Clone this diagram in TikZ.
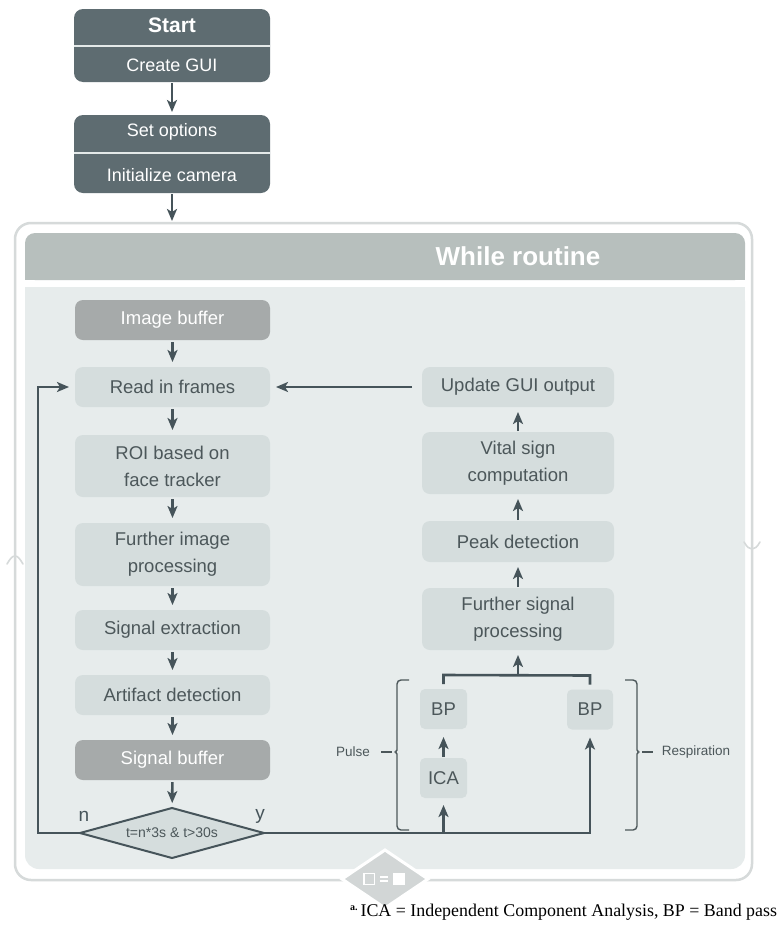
\documentclass[tikz,border=0pt]{standalone}
\usepackage{fontspec}
\setmainfont{Liberation Sans}
\newfontfamily\notefont{Liberation Serif}
\usetikzlibrary{arrows.meta,calc,shapes.geometric}

\definecolor{darkbox}{HTML}{5E6C71}
\definecolor{headcol}{HTML}{B7BFBD}
\definecolor{areacol}{HTML}{E7ECEC}
\definecolor{lightbox}{HTML}{D5DDDD}
\definecolor{bufcol}{HTML}{A6AAAA}
\definecolor{flowcol}{HTML}{46545A}
\definecolor{boxtext}{HTML}{4C575A}
\definecolor{framecol}{HTML}{D6DADA}
\definecolor{badgecol}{HTML}{D2D6D6}
\definecolor{dividecol}{HTML}{E4E9E9}

\newcommand\fsz[2]{\fontsize{#1}{#2}\selectfont}

\tikzset{
  every node/.style={inner sep=0pt, outer sep=0pt},
  darkbox/.style={rectangle, rounded corners=9pt, fill=darkbox, minimum width=196pt},
  darktext/.style={text=white, font=\fsz{18}{21}},
  lbox/.style={rectangle, rounded corners=8pt, fill=lightbox, text=boxtext,
    font=\fsz{18.5}{27}, align=center, minimum height=40pt},
  lcol/.style={lbox, minimum width=195pt},
  rcol/.style={lbox, minimum width=192pt},
  bufbox/.style={lcol, fill=bufcol, text=white},
  smallbox/.style={lbox, minimum width=47pt, rounded corners=5pt},
  flow/.style={draw=flowcol, line width=2.6pt,
    -{Stealth[length=12pt,width=10pt,inset=3pt]}},
  plainflow/.style={draw=flowcol, line width=2.6pt},
  bracket/.style={draw=boxtext, line width=1.4pt, rounded corners=4pt},
  sidelabel/.style={text=boxtext, font=\fsz{13.5}{16}},
  divider/.style={draw=dividecol, line width=2pt},
}

\begin{document}
\begin{tikzpicture}[x=1pt, y=-1pt]
  \useasboundingbox (0,0) rectangle (779,937);
  \fill[white] (0,0) rectangle (779,937);

  % set-up blocks before the loop
  \node[darkbox, minimum height=73pt] (setup1) at (172,45.5) {};
  \node[darktext, font=\fsz{21}{24}\bfseries] (start) at (172,25) {Start};
  \node[darktext] (gui) at (172,65) {Create GUI};
  \draw[divider] (setup1.west) -- (setup1.east);

  \node[darkbox, minimum height=78pt] (setup2) at (172,154) {};
  \node[darktext] (opts) at (172,132) {Set options};
  \node[darktext] (cam) at (172,175) {Initialize camera};
  \draw[divider] (setup2.west |- 0,153) -- (setup2.east |- 0,153);

  % frame of the while routine
  \draw[framecol, line width=2.5pt, fill=white, rounded corners=16pt]
    (15,223) rectangle (752,880);
  \fill[headcol, rounded corners=10pt] (25,233) rectangle (745,280);
  \fill[headcol] (25,262) rectangle (745,280);
  \fill[areacol, rounded corners=14pt] (25,287) rectangle (745,869);
  \fill[areacol] (25,287) rectangle (745,310);
  \node[text=white, font=\fsz{26}{30}\bfseries] (while) at (518,256) {While routine};

  % small chevrons on the frame sides
  \draw[framecol, line width=1.6pt, line cap=round]
    (7,564) .. controls (10,559) and (12,556) .. (15,556)
            .. controls (18,556) and (20,559) .. (23,564);
  \draw[framecol, line width=1.6pt, line cap=round]
    (744,542) .. controls (747,547) and (749,549) .. (752,549)
              .. controls (755,549) and (757,547) .. (760,542);

  \coordinate (loopin) at (172,221);
  \draw[flow, shorten <=1pt, shorten >=3pt] (setup1) -- (setup2);
  \draw[flow, shorten <=1pt] (setup2) -- (loopin);

  % left column: acquisition
  \node[bufbox] (imgbuf) at (172.5,320) {Image buffer};
  \node[lcol] (read) at (172.5,387) {Read in frames};
  \node[lcol, minimum height=62pt] (roi) at (172.5,466) {ROI based on\\face tracker};
  \node[lcol, minimum height=63pt] (fimg) at (172.5,554.5) {Further image\\processing};
  \node[lcol] (sigext) at (172.5,630) {Signal extraction};
  \node[lcol] (artif) at (172.5,695) {Artifact detection};
  \node[bufbox] (sigbuf) at (172.5,760) {Signal buffer};
  \node[shape=diamond, aspect=3.7, minimum width=184pt, minimum height=50pt,
        fill=lightbox, draw=flowcol, line width=2pt, text=boxtext,
        font=\fsz{14}{16}] (dec) at (172,833) {t=n*3s \& t>30s};
  \node[text=flowcol, font=\fsz{19}{22}] (nlab) at (84,816) {n};
  \node[text=flowcol, font=\fsz{19}{22}] (ylab) at (260,816) {y};

  % right column: evaluation
  \node[rcol] (upd) at (518,387) {Update GUI output};
  \node[rcol, minimum height=62pt] (vital) at (518,463) {Vital sign\\computation};
  \node[rcol, minimum height=41pt] (peak) at (518,541.5) {Peak detection};
  \node[rcol, minimum height=62pt] (fsig) at (518,619) {Further signal\\processing};
  \node[smallbox] (bpl) at (443.5,709) {BP};
  \node[smallbox, minimum width=46pt] (bpr) at (590,709.5) {BP};
  \node[smallbox] (ica) at (443.5,778) {ICA};

  % downward flow on the left
  \foreach \a/\b in {imgbuf/read, read/roi, roi/fimg, fimg/sigext,
                     sigext/artif, artif/sigbuf, sigbuf/dec}
    \draw[flow, shorten <=2pt, shorten >=5pt] (\a) -- (\b);

  % upward flow on the right
  \foreach \a/\b in {vital/upd, peak/vital, fsig/peak}
    \draw[flow, shorten <=1pt, shorten >=5pt] (\a) -- (\b);
  \draw[flow, shorten <=1pt, shorten >=8pt] (ica) -- (bpl);

  % loop back and result feedback
  \draw[flow, shorten >=6pt] (dec.west) -- ++(-42,0) |- (read.west);
  \draw[flow, shorten <=10pt, shorten >=6pt] (upd) -- (read);

  % yes branch to the two filters
  \coordinate (icafoot) at (ica.south |- dec.east);
  \draw[flow, shorten >=8pt] (dec.east) -| (bpr.south);
  \draw[flow, shorten >=7pt] (icafoot) -- (ica.south);

  % merge of both filter outputs
  \coordinate (mergeL) at ($(bpl.north)+(0,-14)$);
  \coordinate (mergeR) at ($(bpr.north)+(0,-14)$);
  \coordinate (mergeC) at (fsig.south |- mergeL);
  \draw[plainflow] ($(bpl.north)+(0,-5)$) -- (mergeL) -- (mergeR) -- ($(bpr.north)+(0,-5)$);
  \draw[flow, shorten >=5pt] (mergeC) -- (fsig.south);

  % braces for pulse and respiration
  \draw[bracket] (409,680) -- (397,680) -- (397,746)
    .. controls (397,750) and (395,752) .. (392,752)
    .. controls (395,752) and (397,754) .. (397,758) -- (397,830) -- (409,830);
  \draw[bracket] (381,752) -- (392,752);
  \node[sidelabel] (pulse) at (353,752) {Pulse};

  \draw[bracket] (625,680) -- (637,680) -- (637,746)
    .. controls (637,750) and (639,752) .. (642,752)
    .. controls (639,752) and (637,754) .. (637,758) -- (637,830) -- (625,830);
  \draw[bracket] (642,752) -- (653,752);
  \node[sidelabel] (resp) at (696,752) {Respiration};

  % badge on the lower frame edge
  \node[shape=diamond, minimum width=86pt, minimum height=58pt, fill=badgecol,
        draw=white, line width=3pt] (badge) at (385,879) {};
  \draw[white, line width=1.4pt] (364,873.5) rectangle (374.5,884.5);
  \draw[white, line width=1.6pt] (380,877) -- (388,877) (380,881) -- (388,881);
  \fill[white] (393,873) rectangle (405,885);

  % footnote
  \node[anchor=east, text=black] (note) at (777,912)
    {\notefont\fsz{17.9}{20}\raisebox{6pt}{\fsz{10}{10}\bfseries a.}\,ICA = Independent Component Analysis, BP = Band pass};
\end{tikzpicture}
\end{document}
